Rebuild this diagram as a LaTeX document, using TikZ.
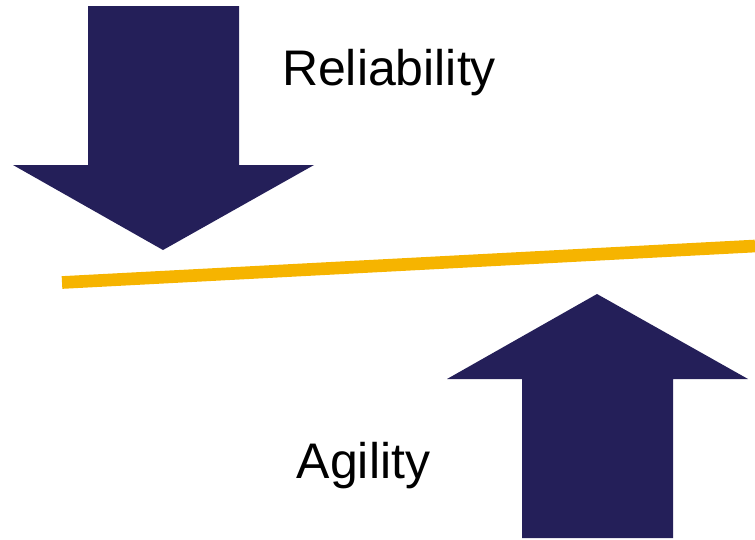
\documentclass[tikz,border=0pt]{standalone}
\usepackage{fontspec}
\setmainfont{Liberation Sans}
\definecolor{navy}{RGB}{36,31,89}
\definecolor{gold}{RGB}{246,180,0}
\begin{document}
\begin{tikzpicture}[x=0.75pt,y=-0.75pt,
  bigarrow/.style={fill=navy,draw=none},
  label/.style={anchor=base,inner sep=0pt,font=\fontsize{37.5}{45}\selectfont}]
\useasboundingbox (0,0) rectangle (755,539);
% down arrow
\fill[bigarrow] (88,6) -- (239,6) -- (239,165) -- (314,165) -- (163,250) -- (13,165) -- (88,165) -- cycle;
% up arrow
\fill[bigarrow] (522,538) -- (673,538) -- (673,379) -- (748,379) -- (597,294) -- (447,379) -- (522,379) -- cycle;
% balance line
\draw[gold,line width=9.5pt] (62,282.5) -- (755,246);
\node[label] (rel) at (389,85) {Reliability};
\node[label] (agi) at (363.5,478) {Agility};
\end{tikzpicture}
\end{document}
